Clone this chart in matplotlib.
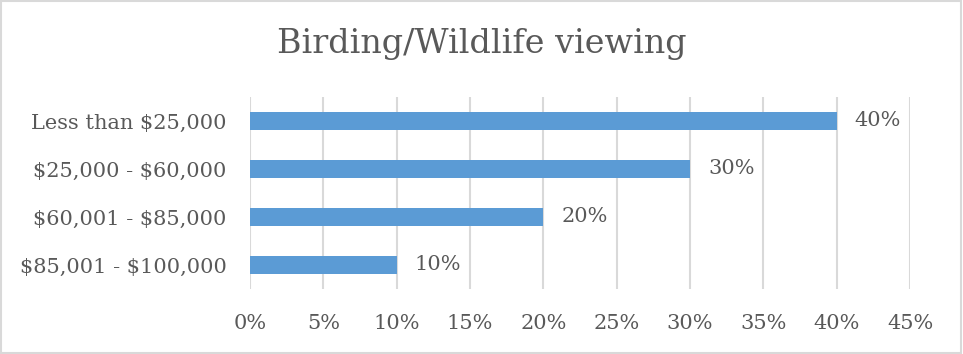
import matplotlib.pyplot as plt
from matplotlib.patches import Rectangle

categories = ["Less than $25,000", "$25,000 - $60,000", "$60,001 - $85,000", "$85,001 - $100,000"]
values = [40, 30, 20, 10]
xticks = [0, 5, 10, 15, 20, 25, 30, 35, 40, 45]

TEXT = "#595959"
GRID = "#d9d9d9"
BAR = "#5b9bd5"


def main():
    plt.rcParams["font.family"] = ["DejaVu Serif"]
    plt.rcParams["text.parse_math"] = False
    fig = plt.figure(figsize=(9.63, 3.54), dpi=100)
    ax = fig.add_axes([250 / 963, 1 - 289 / 354, 660 / 963, 192 / 354])

    y = list(range(len(categories)))
    ax.barh(y, values, height=0.355, color=BAR, zorder=3)

    for yi, v in zip(y, values):
        ax.annotate(f"{v}%", (v, yi), xytext=(13, 0), textcoords="offset points",
                    va="center", ha="left", fontsize=15, color=TEXT)

    ax.set_xlim(0, 45)
    ax.set_ylim(len(categories) - 0.5, -0.5)
    ax.set_xticks(xticks)
    ax.set_xticklabels([f"{t}%" for t in xticks])
    ax.set_yticks(y)
    ax.set_yticklabels(categories)
    ax.tick_params(length=0, labelsize=15, colors=TEXT)
    ax.tick_params(axis="x", pad=18)
    ax.tick_params(axis="y", pad=17)
    ax.grid(axis="x", color=GRID, linewidth=1.5, zorder=0)
    for s in ax.spines.values():
        s.set_visible(False)

    fig.text(0.5, 1 - 44 / 354, "Birding/Wildlife viewing", ha="center", va="center",
             fontsize=24, color=TEXT)

    fig.patches.append(Rectangle((0.001, 0.002), 0.997, 0.995, transform=fig.transFigure,
                                 fill=False, edgecolor=GRID, linewidth=1.5))

    fig.savefig("out.png", dpi=100)


if __name__ == "__main__":
    main()
